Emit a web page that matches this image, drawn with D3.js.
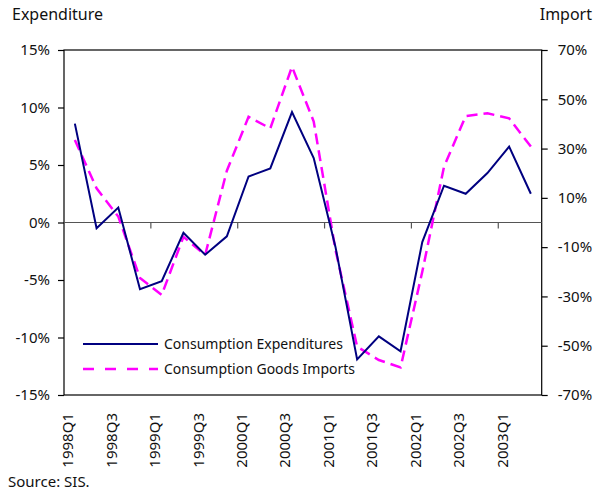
<!DOCTYPE html>
<html>
<head>
<meta charset="utf-8">
<script src="https://cdn.jsdelivr.net/npm/d3@7"></script>
<style>
  body { margin: 0; background: #fff; }
  svg { display: block; font-family: "Noto Sans", sans-serif; }
</style>
</head>
<body>
<div id="chart"></div>
<script>
// quarters 1998Q1 .. 2003Q2
const quarters = [
  "1998Q1", "1998Q2", "1998Q3", "1998Q4",
  "1999Q1", "1999Q2", "1999Q3", "1999Q4",
  "2000Q1", "2000Q2", "2000Q3", "2000Q4",
  "2001Q1", "2001Q2", "2001Q3", "2001Q4",
  "2002Q1", "2002Q2", "2002Q3", "2002Q4",
  "2003Q1", "2003Q2"
]
// consumption expenditures, % (left axis)
const expenditures = [8.6, -0.5, 1.3, -5.8, -5.1, -0.9, -2.8, -1.2, 4.0, 4.7, 9.6, 5.6,
  -2.1, -11.9, -9.9, -11.2, -1.7, 3.2, 2.5, 4.3, 6.6, 2.5]
// consumption goods imports, % (right axis)
const imports = [33.5, 13.9, 2.4, -22.5, -29.4, -5.8, -13.2, 21.0, 42.9, 38.2, 63.2, 41.0,
  -11.0, -50.4, -55.8, -58.8, -20.0, 22.6, 43.2, 44.3, 42.3, 30.8]

const leftTicks = [-15, -10, -5, 0, 5, 10, 15]
const rightTicks = [-70, -50, -30, -10, 10, 30, 50, 70]
const seriesNames = ["Consumption Expenditures", "Consumption Goods Imports"]

const width = 601
const height = 495
const plot = { left: 64, right: 541.7, top: 50, bottom: 395 }

const svg = d3.select("#chart").append("svg")
  .attr("width", width)
  .attr("height", height)

const x = d3.scaleBand().domain(quarters).range([plot.left, plot.right]).padding(0)
const yL = d3.scaleLinear().domain([-15, 15]).range([plot.bottom, plot.top])
const yR = d3.scaleLinear().domain([-70, 70]).range([plot.bottom, plot.top])

// frame
svg.append("rect")
  .attr("x", plot.left).attr("y", plot.top)
  .attr("width", plot.right - plot.left).attr("height", plot.bottom - plot.top)
  .attr("fill", "none").attr("stroke", "#000").attr("stroke-width", 1.2)

// left axis
const leftAxis = svg.append("g")
  .attr("transform", `translate(${plot.left},0)`)
  .call(d3.axisLeft(yL).tickValues(leftTicks).tickSize(6).tickPadding(8)
    .tickFormat(d => d + "%"))
leftAxis.select(".domain").remove()
leftAxis.selectAll("line").attr("stroke", "#000").attr("stroke-width", 1.2)
leftAxis.selectAll("text").attr("font-size", 15).attr("fill", "#111")
  .attr("font-family", "Noto Sans")

// right axis
const rightAxis = svg.append("g")
  .attr("transform", `translate(${plot.right},0)`)
  .call(d3.axisRight(yR).tickValues(rightTicks).tickSize(6).tickPadding(10)
    .tickFormat(d => d + "%"))
rightAxis.select(".domain").remove()
rightAxis.selectAll("line").attr("stroke", "#000").attr("stroke-width", 1.2)
rightAxis.selectAll("text").attr("font-size", 15).attr("fill", "#111")
  .attr("font-family", "Noto Sans")

// zero line with yearly tick marks
const y0 = yL(0)
svg.append("line")
  .attr("x1", plot.left).attr("x2", plot.right)
  .attr("y1", y0).attr("y2", y0)
  .attr("stroke", "#555").attr("stroke-width", 1.2)

svg.selectAll(".xtick")
  .data(quarters.filter((q, i) => i > 0 && i % 4 === 0))
  .enter().append("line")
  .attr("class", "xtick")
  .attr("x1", d => x(d)).attr("x2", d => x(d))
  .attr("y1", y0).attr("y2", y0 + 6)
  .attr("stroke", "#555").attr("stroke-width", 1.2)

// x labels, every second quarter, rotated
svg.selectAll(".xlabel")
  .data(quarters.filter((q, i) => i % 2 === 0))
  .enter().append("text")
  .attr("class", "xlabel")
  .attr("transform", d => `translate(${x(d) + x.bandwidth() / 2 - 1.5},413) rotate(-90)`)
  .attr("text-anchor", "end")
  .attr("font-size", 15)
  .attr("fill", "#111")
  .text(d => d)

// series lines
const lineL = d3.line()
  .x((d, i) => x(quarters[i]) + x.bandwidth() / 2)
  .y(d => yL(d))
const lineR = d3.line()
  .x((d, i) => x(quarters[i]) + x.bandwidth() / 2)
  .y(d => yR(d))

svg.append("path")
  .datum(imports)
  .attr("d", lineR)
  .attr("fill", "none")
  .attr("stroke", "#ff00ff")
  .attr("stroke-width", 2.5)
  .attr("stroke-dasharray", "11,6")

svg.append("path")
  .datum(expenditures)
  .attr("d", lineL)
  .attr("fill", "none")
  .attr("stroke", "#000080")
  .attr("stroke-width", 2)

// legend
const legend = svg.append("g")
legend.append("line")
  .attr("x1", 83).attr("x2", 158).attr("y1", 344).attr("y2", 344)
  .attr("stroke", "#000080").attr("stroke-width", 2)
legend.append("line")
  .attr("x1", 83).attr("x2", 158).attr("y1", 369).attr("y2", 369)
  .attr("stroke", "#ff00ff").attr("stroke-width", 2.5)
  .attr("stroke-dasharray", "11,11")
legend.selectAll("text")
  .data(seriesNames)
  .enter().append("text")
  .attr("x", 164)
  .attr("y", (d, i) => 344 + i * 25)
  .attr("dy", "0.35em")
  .attr("font-size", 14)
  .attr("fill", "#111")
  .text(d => d)

// axis titles and source
svg.append("text").attr("x", 12).attr("y", 20)
  .attr("font-size", 16).attr("fill", "#111").text("Expenditure")
svg.append("text").attr("x", 592).attr("y", 20).attr("text-anchor", "end")
  .attr("font-size", 16).attr("fill", "#111").text("Import")
svg.append("text").attr("x", 8).attr("y", 487)
  .attr("font-size", 15).attr("fill", "#111").text("Source: SIS.")
</script>
</body>
</html>
